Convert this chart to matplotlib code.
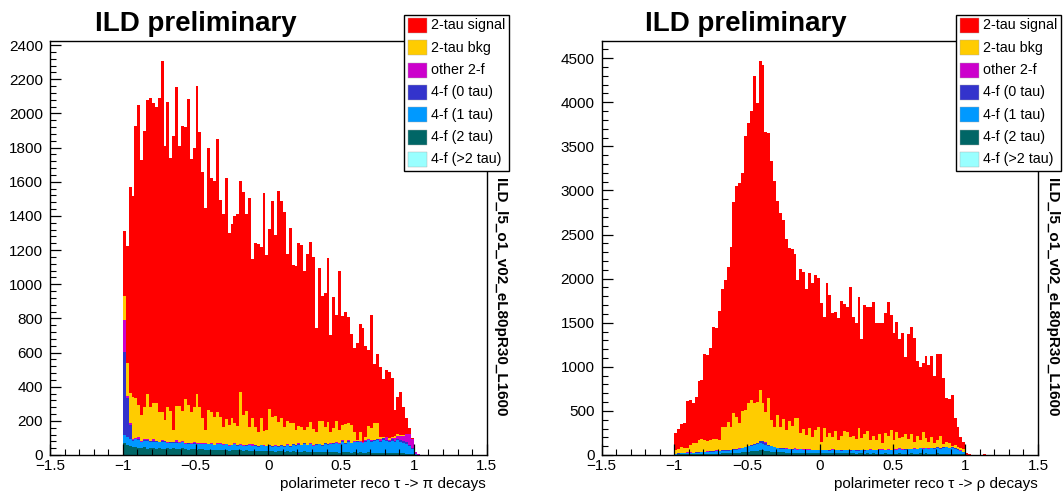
import numpy as np
import matplotlib
matplotlib.use("Agg")
import matplotlib.pyplot as plt
from matplotlib.patches import Rectangle
from matplotlib.ticker import MultipleLocator, FuncFormatter

plt.rcParams['font.family'] = ['Liberation Sans', 'DejaVu Sans']

W, H = 1063, 495

# bins of 0.02 from -1.5 to 1.5; the lists below start at x = -1
x_lo, x_hi, n_bins = -1.5, 1.5, 150
first_bin = 25

labels = ['2-tau signal', '2-tau bkg', 'other 2-f', '4-f (0 tau)', '4-f (1 tau)', '4-f (2 tau)', '4-f (>2 tau)']
colors = ['#ff0000', '#ffcc00', '#cc00cc', '#3333cc', '#0099ff', '#006666', '#99ffff']

# ---- tau -> pi ----
left_total = [1313, 1224, 1567, 1518, 1928, 2049, 1727, 1897, 2078, 2088,
              2059, 2039, 2092, 2309, 1809, 2065, 1737, 1870, 2153, 1811,
              1926, 1918, 2084, 1731, 1799, 2160, 1893, 1659, 1448, 1795,
              1620, 1606, 1853, 1493, 1409, 1624, 1298, 1352, 1401, 1409,
              1604, 1542, 1411, 1503, 1147, 1239, 1235, 1216, 1536, 1171,
              1323, 1487, 1288, 1548, 1487, 1425, 1177, 1327, 1112, 1107,
              1239, 1230, 1079, 1177, 1249, 1157, 742, 1093, 931, 947,
              1152, 703, 923, 820, 1077, 816, 839, 810, 706, 625,
              658, 767, 742, 638, 615, 820, 531, 591, 517, 443,
              498, 488, 449, 263, 341, 371, 283, 215, 156, 98] + [20, 3]
left_bkg = [145, 192, 173, 246, 231, 187, 154, 192, 263, 200,
            207, 220, 175, 169, 123, 202, 181, 70, 201, 213,
            175, 257, 222, 185, 209, 288, 209, 148, 76, 198,
            186, 165, 183, 156, 104, 144, 117, 158, 120, 109,
            304, 178, 198, 104, 152, 107, 83, 155, 84, 92,
            210, 171, 171, 142, 154, 113, 137, 132, 124, 88,
            100, 106, 74, 106, 126, 93, 71, 134, 140, 96,
            130, 68, 83, 127, 78, 86, 110, 100, 103, 56,
            6, 57, 4, 21, 77, 72, 96, 89, 12, 5,
            3, 8, 4, 12, 10, 6, 3, 2, 0, 0]
left_other = [187, 10, 12, 3, 8, 15, 2, 4, 6, 3,
              15, 2, 3, 4, 2, 5, 3, 2, 12, 3,
              2, 4, 2, 3, 5, 2, 3, 2, 4, 2,
              3, 2, 5, 2, 3, 2, 4, 2, 3, 2,
              2, 3, 2, 4, 8, 3, 2, 2, 3, 2,
              3, 2, 3, 2, 4, 2, 3, 2, 3, 2,
              8, 2, 3, 2, 3, 2, 4, 2, 3, 2,
              3, 2, 5, 2, 3, 10, 2, 3, 2, 3,
              2, 3, 2, 4, 3, 5, 3, 4, 12, 5,
              15, 8, 6, 15, 20, 25, 30, 45, 60, 50] + [15, 3]
left_f0 = [482, 230, 85, 5, 3, 4, 2, 3, 6, 2,
           3, 4, 2, 5, 3, 2, 4, 3, 2, 3,
           4, 2, 3, 2, 3, 2, 4, 2, 3, 2,
           3, 2, 4, 2, 3, 2, 3, 2, 4, 2,
           3, 2, 3, 2, 4, 2, 3, 2, 3, 2,
           3, 2, 4, 2, 3, 2, 4, 2, 3, 2,
           4, 2, 3, 2, 4, 2, 3, 2, 4, 2,
           3, 2, 4, 2, 3, 5, 2, 4, 2, 3,
           5, 3, 3, 6, 3, 8, 4, 6, 4, 8,
           6, 5, 10, 6, 4, 8, 10, 12, 10, 8]
left_f1 = [49, 50, 40, 38, 42, 45, 36, 40, 44, 38,
           35, 40, 34, 38, 42, 30, 36, 33, 38, 32,
           35, 30, 34, 28, 32, 35, 30, 28, 33, 30,
           32, 27, 30, 34, 28, 31, 26, 29, 32, 27,
           30, 26, 28, 32, 25, 29, 27, 30, 26, 28,
           31, 27, 30, 26, 33, 29, 35, 30, 38, 34,
           40, 36, 44, 38, 42, 36, 40, 45, 38, 48,
           42, 50, 46, 54, 48, 58, 52, 62, 55, 60,
           62, 58, 55, 64, 72, 62, 68, 74, 66, 78,
           70, 64, 72, 68, 76, 70, 62, 58, 45, 30] + [5]
left_f2 = [68, 55, 50, 45, 48, 42, 40, 44, 38, 40,
           42, 36, 40, 38, 35, 40, 36, 38, 34, 36,
           38, 35, 32, 36, 34, 30, 33, 35, 30, 32,
           30, 28, 32, 30, 28, 30, 26, 28, 30, 26,
           28, 25, 27, 24, 26, 25, 22, 26, 24, 22,
           24, 22, 20, 23, 21, 20, 22, 19, 21, 20,
           18, 20, 22, 18, 20, 17, 19, 18, 16, 18,
           17, 15, 18, 16, 14, 17, 15, 16, 14, 15,
           13, 16, 14, 12, 15, 13, 14, 12, 13, 11,
           12, 13, 11, 10, 12, 9, 10, 8, 6, 4]
left_f3 = [2, 1, 1, 0, 1, 0, 1, 0, 0, 1,
           0, 1, 0, 0, 1, 0, 0, 1, 0, 0,
           1, 0, 0, 0, 1, 0, 0, 1, 0, 0,
           0, 1, 0, 0, 0, 1, 0, 0, 0, 1]

# ---- tau -> rho ----
right_total = [253, 291, 351, 360, 616, 624, 593, 654, 843, 850,
               1141, 1130, 1217, 1447, 1440, 1636, 1878, 1984, 2128, 2362,
               2872, 3050, 3080, 3193, 3617, 3768, 3904, 4301, 3987, 4471,
               4422, 3666, 3650, 3337, 3110, 2884, 2748, 2664, 2446, 2343,
               2332, 2279, 1984, 2105, 2079, 1878, 2067, 1946, 2041, 2003,
               1720, 1568, 1946, 1814, 1614, 1625, 1557, 1750, 1712, 1682,
               1901, 1568, 1493, 1795, 1315, 1701, 1682, 1682, 1739, 1500,
               1493, 1500, 1606, 1739, 1587, 1387, 1512, 1311, 1379, 1107,
               1372, 1447, 1330, 1070, 994, 1039, 1122, 1020, 1122, 896,
               1145, 1145, 869, 642, 631, 676, 416, 321, 208, 151] + [20, 15, 0, 0, 0, 0, 12]
right_bkg = [40, 44, 62, 53, 48, 78, 114, 108, 133, 145,
             132, 123, 128, 135, 124, 122, 266, 267, 321, 263,
             413, 358, 284, 419, 418, 481, 506, 459, 466, 581,
             426, 350, 525, 293, 227, 372, 241, 329, 209, 317,
             263, 342, 353, 182, 228, 161, 238, 146, 221, 262,
             91, 244, 147, 192, 144, 218, 113, 158, 218, 205,
             152, 153, 122, 246, 127, 183, 215, 107, 157, 110,
             171, 74, 185, 150, 224, 106, 202, 110, 129, 165,
             106, 168, 76, 144, 89, 191, 107, 76, 123, 62,
             77, 134, 34, 55, 47, 12, 32, 26, 23, 29] + [0, 5]
right_other = [2, 2, 2, 3, 2, 8, 2, 3, 2, 2,
               3, 2, 2, 3, 10, 2, 3, 2, 3, 2,
               3, 2, 3, 3, 2, 3, 4, 3, 3, 4,
               6, 3, 3, 2, 3, 2, 3, 2, 3, 2,
               2, 3, 2, 3, 2, 5, 2, 3, 2, 2,
               3, 2, 3, 2, 3, 2, 2, 3, 2, 2,
               3, 2, 2, 3, 2, 2, 3, 2, 2, 3,
               10, 8, 2, 3, 2, 2, 3, 12, 10, 8,
               3, 2, 3, 2, 3, 2, 3, 2, 3, 2,
               3, 2, 3, 2, 3, 2, 3, 2, 2, 2]
right_f0 = [2, 2, 3, 2, 3, 2, 3, 2, 3, 2,
            3, 2, 3, 3, 2, 3, 4, 3, 4, 3,
            4, 5, 4, 5, 6, 6, 8, 8, 10, 18,
            28, 20, 8, 6, 5, 4, 5, 4, 3, 4,
            3, 4, 3, 4, 3, 3, 4, 3, 3, 4,
            3, 3, 4, 3, 3, 4, 3, 3, 4, 3,
            3, 4, 3, 3, 4, 3, 3, 4, 3, 3,
            4, 3, 3, 4, 3, 3, 4, 3, 4, 3,
            3, 4, 3, 4, 3, 4, 3, 4, 3, 4,
            8, 6, 5, 8, 6, 5, 6, 4, 3, 2]
right_f1 = [8, 10, 12, 11, 14, 15, 13, 16, 18, 17,
            20, 22, 24, 22, 26, 28, 30, 32, 30, 34,
            36, 40, 42, 48, 52, 60, 66, 72, 78, 82,
            76, 72, 64, 58, 52, 46, 44, 40, 42, 38,
            36, 40, 34, 38, 36, 33, 35, 32, 36, 30,
            34, 31, 33, 30, 36, 32, 34, 30, 33, 35,
            32, 36, 34, 31, 38, 34, 36, 40, 35, 38,
            36, 40, 38, 42, 37, 44, 40, 46, 42, 45,
            50, 46, 54, 48, 56, 52, 58, 54, 62, 56,
            64, 58, 66, 70, 62, 68, 60, 52, 40, 25]
right_f2 = [5, 6, 8, 7, 9, 10, 8, 11, 10, 12,
            12, 14, 13, 15, 16, 15, 18, 17, 20, 19,
            24, 22, 26, 28, 32, 36, 40, 44, 48, 52,
            50, 46, 42, 38, 34, 30, 28, 30, 26, 28,
            25, 27, 24, 26, 22, 25, 23, 24, 21, 23,
            20, 22, 21, 19, 22, 20, 18, 21, 19, 20,
            18, 20, 17, 19, 18, 16, 19, 17, 18, 16,
            17, 15, 18, 16, 17, 15, 16, 18, 15, 17,
            16, 18, 15, 17, 19, 16, 18, 15, 17, 16,
            18, 15, 17, 16, 14, 15, 12, 10, 8, 6]
right_f3 = [0, 1, 0, 0, 1, 0, 0, 1, 0, 1,
            0, 0, 1, 0, 1, 0, 1, 1, 0, 1,
            1, 0, 1, 1, 2, 1, 1, 2, 1, 2,
            2, 1, 1, 1, 0, 1, 1, 0, 1, 0]


def full(vals):
    a = np.zeros(n_bins)
    a[first_bin:first_bin + len(vals)] = vals
    return a


def draw_panel(ax, total, bkgs, ymajor, yminor):
    edges = np.linspace(x_lo, x_hi, n_bins + 1)
    total = full(total)
    comps = [full(b) for b in bkgs]          # bkg, other, f0, f1, f2, f3 (top -> bottom)
    signal = np.clip(total - np.sum(comps, axis=0), 0, None)
    stack = [signal] + comps
    # draw cumulative levels from the top down, each from zero
    for k in range(len(stack)):
        level = np.sum(stack[k:], axis=0)
        ax.stairs(level, edges, baseline=0, fill=True, color=colors[k], lw=0)

    ax.set_xlim(x_lo, x_hi)
    ax.set_ylim(0, 1.05 * total.max())
    ax.xaxis.set_major_locator(MultipleLocator(0.5))
    ax.xaxis.set_minor_locator(MultipleLocator(0.1))
    ax.yaxis.set_major_locator(MultipleLocator(ymajor))
    ax.yaxis.set_minor_locator(MultipleLocator(yminor))
    ax.xaxis.set_major_formatter(FuncFormatter(lambda v, _: f"{v:g}".replace("-", "\u2212")))
    ax.yaxis.set_major_formatter(FuncFormatter(lambda v, _: f"{v:.0f}"))
    ax.tick_params(which='both', direction='in', labelsize=11, top=False, right=False, color='black')
    ax.tick_params(which='major', length=8, width=0.9)
    ax.tick_params(which='minor', length=4, width=0.8)
    ax.tick_params(axis='x', pad=3)
    ax.tick_params(axis='y', pad=5)
    for s in ax.spines.values():
        s.set_linewidth(1.0)
        s.set_color('black')


def legend_box(fig, x0, y0):
    fig.add_artist(Rectangle((x0 / W, 1 - (y0 + 156) / H), 105 / W, 156 / H,
                             transform=fig.transFigure, facecolor='white',
                             edgecolor='black', lw=1.0, zorder=5))
    for k, (lab, c) in enumerate(zip(labels, colors)):
        yc = y0 + 10.5 + 22.3 * k
        fig.add_artist(Rectangle(((x0 + 4) / W, 1 - (yc + 7.5) / H), 19 / W, 15 / H,
                                 transform=fig.transFigure, facecolor=c,
                                 edgecolor='#aaaaaa', lw=0.3, zorder=6))
        fig.text((x0 + 27) / W, 1 - yc / H, lab, fontsize=10.3, va='center', ha='left', zorder=7)


fig = plt.figure(figsize=(W / 100, H / 100), dpi=100)

ax1 = fig.add_axes([50 / W, 40 / H, 436.7 / W, 414 / H])
ax2 = fig.add_axes([601.5 / W, 40 / H, 436.5 / W, 414 / H])

draw_panel(ax1, left_total, [left_bkg, left_other, left_f0, left_f1, left_f2, left_f3], 200, 40)
draw_panel(ax2, right_total, [right_bkg, right_other, right_f0, right_f1, right_f2, right_f3], 500, 100)

for xr, txt in [(486, 'polarimeter reco \u03c4 -> \u03c0 decays'), (1038, 'polarimeter reco \u03c4 -> \u03c1 decays')]:
    fig.text(xr / W, 1 - 488 / H, txt, fontsize=11, ha='right', va='baseline')

for xt in [95, 645]:
    fig.text(xt / W, 1 - 31 / H, 'ILD preliminary', fontsize=20, fontweight='bold', ha='left', va='baseline')

for xv in [500, 1052]:
    fig.text(xv / W, 1 - 297 / H, 'ILD_l5_o1_v02_eL80pR30_L1600', fontsize=11, fontweight='bold',
             rotation=270, ha='center', va='center')

legend_box(fig, 404, 15)
legend_box(fig, 956, 15)

fig.savefig('out.png', dpi=100)
